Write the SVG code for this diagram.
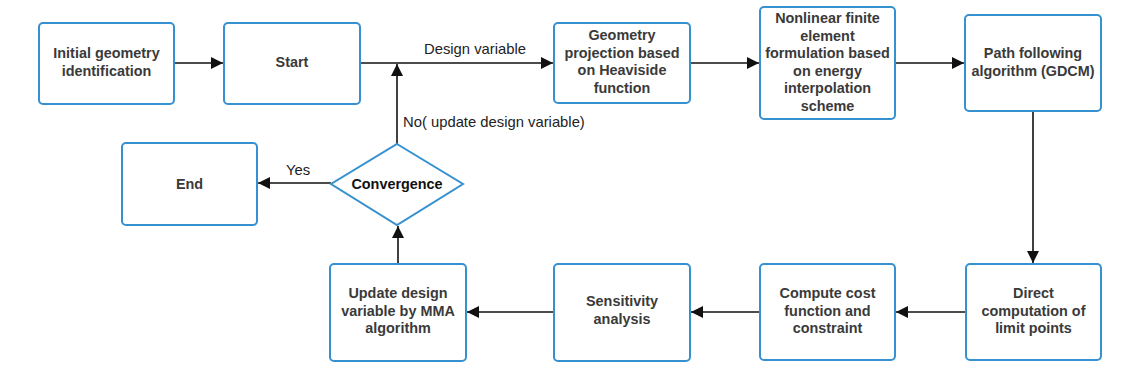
<svg xmlns="http://www.w3.org/2000/svg" width="1123" height="387" viewBox="0 0 1123 387">
<style>
.box{fill:#fff;stroke:#3591cf;stroke-width:2}
.t{font-family:"Liberation Sans",Arial,sans-serif;font-size:14.4px;font-weight:bold;fill:#3a3a3a;text-anchor:middle}
.lbl{font-family:"Liberation Sans",Arial,sans-serif;font-size:14.8px;fill:#222}
.c{fill:none;stroke:#111;stroke-width:1.6}
</style>
<defs>
<marker id="ah" viewBox="0 0 10 10" refX="10" refY="5" markerWidth="12" markerHeight="12" markerUnits="userSpaceOnUse" orient="auto">
<path d="M0,0 L10,5 L0,10 z" fill="#111"/>
</marker>
</defs>
<rect width="1123" height="387" fill="#fff"/>
<g id="connectors">
<line class="c" x1="174" y1="63" x2="223" y2="63" marker-end="url(#ah)"/>
<line class="c" x1="360" y1="63" x2="553" y2="63" marker-end="url(#ah)"/>
<line class="c" x1="397" y1="144" x2="397" y2="64" marker-end="url(#ah)"/>
<line class="c" x1="690" y1="63" x2="759" y2="63" marker-end="url(#ah)"/>
<line class="c" x1="895" y1="63" x2="964" y2="63" marker-end="url(#ah)"/>
<line class="c" x1="1033" y1="111" x2="1033" y2="263" marker-end="url(#ah)"/>
<line class="c" x1="966" y1="312" x2="896" y2="312" marker-end="url(#ah)"/>
<line class="c" x1="760" y1="312" x2="691" y2="312" marker-end="url(#ah)"/>
<line class="c" x1="554" y1="312" x2="467" y2="312" marker-end="url(#ah)"/>
<line class="c" x1="398" y1="264" x2="398" y2="226" marker-end="url(#ah)"/>
<line class="c" x1="331" y1="183" x2="258" y2="183" marker-end="url(#ah)"/>
<text class="lbl" x="424" y="54">Design variable</text>
<text class="lbl" x="403" y="127">No( update design variable)</text>
<text class="lbl" x="286" y="175">Yes</text>
</g>
<g id="n-initial">
<rect class="box" x="39" y="23" width="135" height="81" rx="4"/>
<text class="t" x="106.5" y="58">Initial geometry</text>
<text class="t" x="106.5" y="75.5">identification</text>
</g>
<g id="n-start">
<rect class="box" x="224" y="23" width="136" height="81" rx="4"/>
<text class="t" x="292" y="67">Start</text>
</g>
<g id="n-geometry">
<rect class="box" x="554" y="23" width="136" height="80" rx="4"/>
<text class="t" x="622" y="40">Geometry</text>
<text class="t" x="622" y="57.5">projection based</text>
<text class="t" x="622" y="75">on Heaviside</text>
<text class="t" x="622" y="92.5">function</text>
</g>
<g id="n-nonlinear">
<rect class="box" x="760" y="7" width="135" height="112" rx="4"/>
<text class="t" x="827.5" y="23">Nonlinear finite</text>
<text class="t" x="827.5" y="40.5">element</text>
<text class="t" x="827.5" y="58">formulation based</text>
<text class="t" x="827.5" y="75.5">on energy</text>
<text class="t" x="827.5" y="93">interpolation</text>
<text class="t" x="827.5" y="110.5">scheme</text>
</g>
<g id="n-path">
<rect class="box" x="965" y="15" width="136" height="96" rx="4"/>
<text class="t" x="1033" y="58">Path following</text>
<text class="t" x="1033" y="75.5">algorithm (GDCM)</text>
</g>
<g id="n-direct">
<rect class="box" x="966" y="264" width="135" height="96" rx="4"/>
<text class="t" x="1033.5" y="298">Direct</text>
<text class="t" x="1033.5" y="315.5">computation of</text>
<text class="t" x="1033.5" y="333">limit points</text>
</g>
<g id="n-compute">
<rect class="box" x="760" y="264" width="135" height="96" rx="4"/>
<text class="t" x="827.5" y="298">Compute cost</text>
<text class="t" x="827.5" y="315.5">function and</text>
<text class="t" x="827.5" y="333">constraint</text>
</g>
<g id="n-sensitivity">
<rect class="box" x="554" y="264" width="136" height="97" rx="4"/>
<text class="t" x="622" y="306">Sensitivity</text>
<text class="t" x="622" y="323.5">analysis</text>
</g>
<g id="n-update">
<rect class="box" x="330" y="264" width="136" height="97" rx="4"/>
<text class="t" x="398" y="298">Update design</text>
<text class="t" x="398" y="315.5">variable by MMA</text>
<text class="t" x="398" y="333">algorithm</text>
</g>
<g id="n-convergence">
<polygon class="box" points="397,144 463,184 397,225 331,184"/>
<text class="t" x="397" y="189" style="fill:#111">Convergence</text>
</g>
<g id="n-end">
<rect class="box" x="122" y="143" width="135" height="82" rx="4"/>
<text class="t" x="189.5" y="188.5">End</text>
</g>
</svg>
